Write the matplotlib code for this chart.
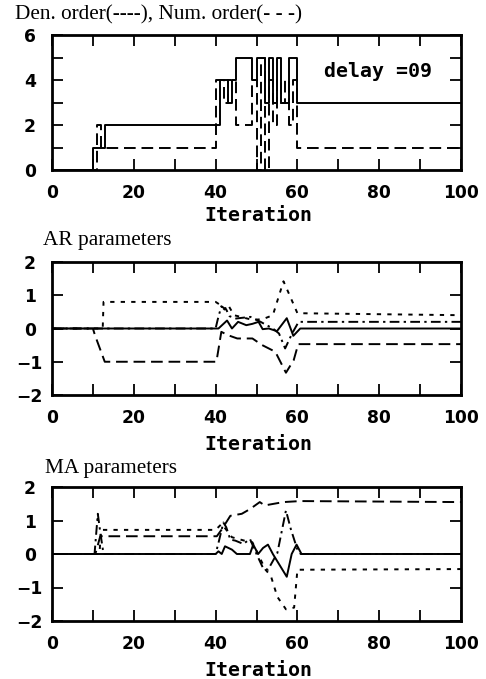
import matplotlib
matplotlib.use('Agg')
import matplotlib.pyplot as plt
from matplotlib.font_manager import FontProperties
from matplotlib.ticker import MultipleLocator

# --- panel 1: model orders (step) ---
den_iter = [0, 10, 13, 41, 43, 44, 45, 49, 50, 52, 53, 54, 55, 56, 58, 60, 100]
den_order = [0, 1, 2, 4, 3, 4, 5, 4, 5, 3, 5, 3, 5, 3, 5, 3, 3]
num_iter = [0, 11, 12, 40, 42, 43, 45, 49, 50, 51, 52, 53, 54, 55, 56, 57, 58, 59, 60, 100]
num_order = [0, 2, 1, 4, 3, 4, 2, 4, 0, 5, 0, 4, 2, 4, 3, 4, 2, 4, 1, 1]

# --- panel 2: AR parameters ---
ar_solid_x = [0, 40, 40.7, 42.8, 44, 45.5, 47.5, 49, 50.5, 51.5, 53, 55, 57.4, 59, 60.7, 100]
ar_solid = [0, 0, 0.0, 0.24, 0.0, 0.2, 0.1, 0.14, 0.2, -0.02, 0.0, -0.08, 0.31, -0.22, 0.0, 0.0]
ar_dash_x = [0, 10, 10.5, 12.9, 40.2, 41.4, 43, 45.3, 49, 51.4, 54.6, 57.2, 59.1, 60.2, 100]
ar_dash = [0, 0, -0.2, -1.0, -1.0, -0.1, -0.2, -0.3, -0.3, -0.5, -0.7, -1.33, -0.95, -0.47, -0.47]
ar_dot_x = [0, 12.4, 12.6, 40, 41, 42.2, 43, 44.5, 49, 51.5, 54, 56.6, 58.2, 60, 100]
ar_dot = [0, 0, 0.8, 0.8, 0.72, 0.57, 0.72, 0.4, 0.26, 0.28, 0.4, 1.42, 0.97, 0.46, 0.4]
ar_dd_x = [0, 40, 40.5, 41.4, 42.6, 43.4, 45, 48.5, 51, 54, 55.5, 57, 58.7, 60.3, 100]
ar_dd = [0, 0, 0.26, 0.67, 0.57, 0.37, 0.3, 0.35, 0.2, 0.0, -0.15, -0.6, -0.15, 0.2, 0.2]

# --- panel 3: MA parameters ---
ma_solid_x = [0, 40, 40.7, 41.5, 42.3, 44, 45.2, 48.4, 49.2, 50.4, 51.6, 52.8, 54, 57.4, 58.6, 59.8, 61, 100]
ma_solid = [0, 0, 0.08, 0.0, 0.23, 0.13, 0.0, 0.0, 0.28, 0.0, 0.18, 0.28, 0.0, -0.68, 0.0, 0.28, 0.0, 0.0]
ma_dash_x = [0, 10.6, 11.8, 40.3, 41.6, 43.6, 46.4, 48.4, 50.8, 52, 56.6, 60.7, 100]
ma_dash = [0, 0, 0.53, 0.53, 0.75, 1.14, 1.2, 1.34, 1.55, 1.45, 1.55, 1.58, 1.55]
ma_dot_x = [0, 11.6, 12.0, 40, 41.5, 44, 47, 49, 52.2, 53.5, 55.1, 57.2, 59.2, 60, 100]
ma_dot = [0, 0, 0.72, 0.72, 0.9, 0.5, 0.4, 0.35, -0.47, -0.65, -1.28, -1.65, -1.6, -0.47, -0.45]
ma_dd_x = [0, 10.4, 11.2, 11.8, 12.6, 40, 40.7, 41.9, 42.6, 43.6, 44.8, 46.8, 48.4, 50, 51.6, 52.8, 55.1, 57.2, 58.4, 60, 60.8, 100]
ma_dd = [0, 0, 1.2, 0.65, 0.0, 0.0, 0.33, 0.94, 0.8, 0.43, 0.4, 0.3, 0.45, 0.0, -0.42, -0.47, 0.03, 1.3, 0.74, 0.13, 0.0, 0.0]

x_ticks = [0, 20, 40, 60, 80, 100]

lw = 1.4
dash_ls = (0, (6, 3))
dot_ls = (0, (2.2, 3.2))
dd_ls = (0, (5, 2.2, 1.2, 2.2))

tick_fp = FontProperties(family='DejaVu Sans', weight='bold', size=12.3)
mono = dict(family='DejaVu Sans Mono', weight='bold', size=14.3)
title_font = dict(family='Liberation Serif', size=15.3)

fig = plt.figure(figsize=(4.86, 6.79), dpi=100)
W, H = 486, 679


def make_ax(top, bottom):
    ax = fig.add_axes([52 / W, 1 - bottom / H, (461 - 52) / W, (bottom - top) / H])
    ax.set_xlim(0, 100)
    ax.set_xticks(x_ticks)
    ax.xaxis.set_minor_locator(MultipleLocator(10))
    ax.tick_params(which='both', direction='in', length=8, width=1.3,
                   top=True, right=True)
    ax.tick_params(axis='x', pad=10)
    ax.tick_params(axis='y', pad=16)
    for s in ax.spines.values():
        s.set_linewidth(2.0)
    return ax


# panel 1
ax1 = make_ax(35, 170)
ax1.step(den_iter, den_order, where='post', color='black', lw=lw)
ax1.step(num_iter, num_order, where='post', color='black', lw=lw, linestyle=dash_ls)
ax1.set_ylim(0, 6)
ax1.set_yticks([0, 2, 4, 6])
ax1.yaxis.set_minor_locator(MultipleLocator(1))
ax1.text(0.93, 0.733, 'delay =09', transform=ax1.transAxes, ha='right', va='center', **mono)

# panel 2
ax2 = make_ax(262, 395)
ax2.plot(ar_solid_x, ar_solid, color='black', lw=lw)
ax2.plot(ar_dash_x, ar_dash, color='black', lw=lw, linestyle=dash_ls)
ax2.plot(ar_dot_x, ar_dot, color='black', lw=lw, linestyle=dot_ls)
ax2.plot(ar_dd_x, ar_dd, color='black', lw=lw, linestyle=dd_ls)
ax2.set_ylim(-2, 2)
ax2.set_yticks([-2, -1, 0, 1, 2])

# panel 3
ax3 = make_ax(487, 621)
ax3.plot(ma_solid_x, ma_solid, color='black', lw=lw)
ax3.plot(ma_dash_x, ma_dash, color='black', lw=lw, linestyle=dash_ls)
ax3.plot(ma_dot_x, ma_dot, color='black', lw=lw, linestyle=dot_ls)
ax3.plot(ma_dd_x, ma_dd, color='black', lw=lw, linestyle=dd_ls)
ax3.set_ylim(-2, 2)
ax3.set_yticks([-2, -1, 0, 1, 2])

for ax in (ax1, ax2, ax3):
    for lab in ax.get_xticklabels() + ax.get_yticklabels():
        lab.set_fontproperties(tick_fp)
    for lab in ax.get_yticklabels():
        lab.set_horizontalalignment('center')

# titles and x labels
fig.text(15 / W, 1 - 15 / H, 'Den. order(----), Num. order(- - -)', ha='left', va='center', **title_font)
fig.text(43 / W, 1 - 240 / H, 'AR parameters', ha='left', va='center', **title_font)
fig.text(45 / W, 1 - 468 / H, 'MA parameters', ha='left', va='center', **title_font)
for yl in (221, 450, 676):
    fig.text(258 / W, 1 - yl / H, 'Iteration', ha='center', va='baseline', **mono)

fig.savefig('out.png', dpi=100)
